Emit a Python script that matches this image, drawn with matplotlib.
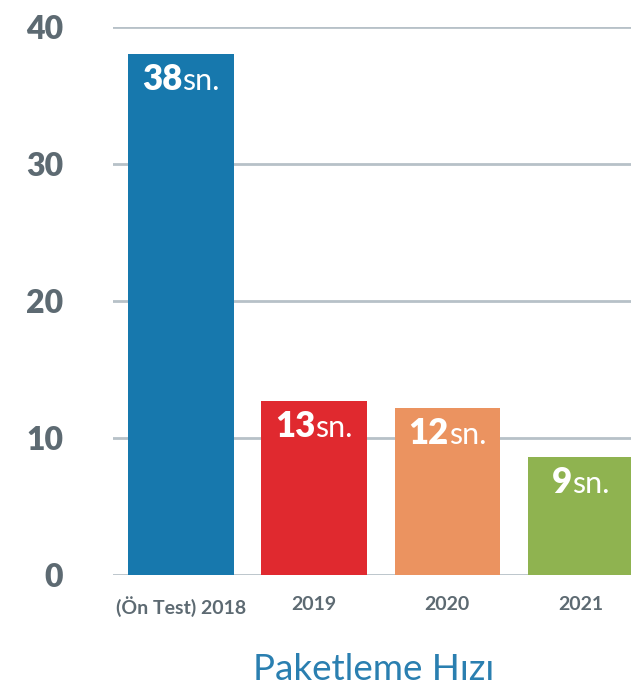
import matplotlib
matplotlib.use("Agg")
import matplotlib.pyplot as plt
from matplotlib.offsetbox import TextArea, HPacker, AnnotationBbox

categories = ['(Ön Test) 2018', '2019', '2020', '2021']
heights = [38.0, 12.7, 12.2, 8.6]
labels = ['38', '13', '12', '9']
colors = ['#1778ad', '#e0292f', '#eb9360', '#8fb350']
yticks = [0, 10, 20, 30, 40]

grid_col = '#b7c1c8'
text_gray = '#5d6a72'

plt.rcParams['font.family'] = ['Lato', 'DejaVu Sans']

fig = plt.figure(figsize=(6.31, 6.88), dpi=100)
ax = fig.add_axes([113 / 631, 1 - 575 / 688, 1 - 113 / 631, (575 - 27) / 688])

x = list(range(len(categories)))
ax.bar(x, heights, width=0.79, color=colors, zorder=2)

ax.set_xlim(-0.51, 3.38)
ax.set_ylim(0, 40)
ax.set_yticks(yticks)
ax.set_yticklabels([str(t) for t in yticks], fontsize=23, fontweight='heavy', color=text_gray)
ax.set_xticks(x)
ax.set_xticklabels(categories, fontsize=14, fontweight='bold', color=text_gray)
ax.tick_params(axis='y', length=0, pad=36)
ax.tick_params(axis='x', length=0, pad=15)

ax.set_axisbelow(True)
ax.yaxis.grid(True, color=grid_col, linewidth=2)
ax.xaxis.grid(False)
for s in ax.spines.values():
    s.set_visible(False)

for i, (h, lab) in enumerate(zip(heights, labels)):
    num = TextArea(lab, textprops=dict(fontsize=25, fontweight='heavy', color='white'))
    unit = TextArea('sn.', textprops=dict(fontsize=22, color='white'))
    box = HPacker(children=[num, unit], pad=0, sep=0, align='baseline')
    ab = AnnotationBbox(box, (i, h), xybox=(0, -30), xycoords='data',
                        boxcoords='offset points', frameon=False,
                        box_alignment=(0.5, 0.0), pad=0, zorder=3)
    ax.add_artist(ab)

fig.text(374 / 631, 1 - 680 / 688, 'Paketleme Hızı', ha='center', va='baseline',
         fontsize=26.5, color='#2a7fb0')

fig.savefig('out.png', dpi=100)
